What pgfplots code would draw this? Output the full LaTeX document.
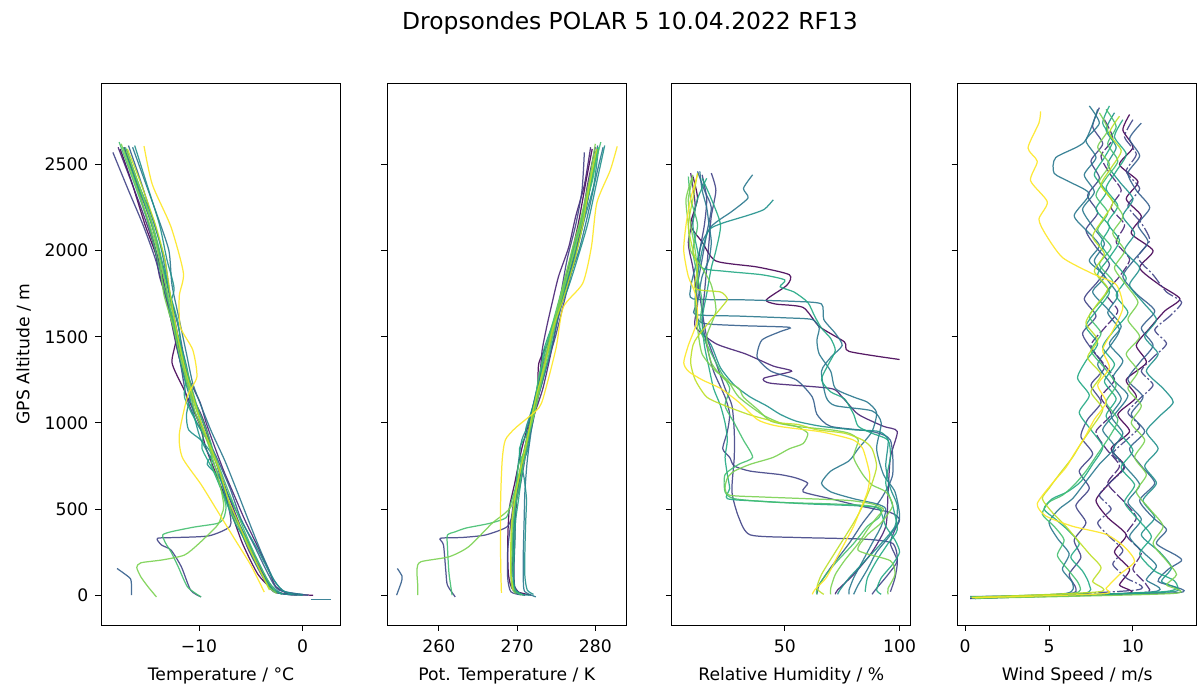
\documentclass[border=0pt]{standalone}
\usepackage{pgfplots}
\pgfplotsset{compat=1.18}
\usepackage{fontspec}
\setmainfont{DejaVu Sans}

% viridis samples
\definecolor{v0}{HTML}{440154}
\definecolor{v1}{HTML}{482475}
\definecolor{v2}{HTML}{414487}
\definecolor{v3}{HTML}{355F8D}
\definecolor{v4}{HTML}{2A788E}
\definecolor{v5}{HTML}{21918C}
\definecolor{v6}{HTML}{22A884}
\definecolor{v7}{HTML}{44BF70}
\definecolor{v8}{HTML}{7AD151}
\definecolor{v9}{HTML}{BDDF26}
\definecolor{v10}{HTML}{FDE725}

\pgfplotsset{
  panel/.style={
    scale only axis, width=119.5pt, height=271pt,
    anchor=south west,
    ymin=-173, ymax=2973, ytick={0,500,1000,1500,2000,2500},
    tick align=outside, xtick pos=bottom, ytick pos=left,
    major tick length=3pt,
    axis line style={line width=0.45pt},
    every tick/.style={black, line width=0.45pt},
    tick label style={font=\fontsize{8.6}{10}\selectfont},
    xticklabel style={yshift=-1pt},
    label style={font=\fontsize{8.6}{10}\selectfont},
    xlabel style={yshift=-0.5pt},
    /pgf/number format/assume math mode=true,
    /pgf/number format/1000 sep={},
    every axis plot/.append style={line width=0.62pt, opacity=0.9, smooth, tension=0.4},
  },
}

\begin{document}
\begin{tikzpicture}
\path[use as bounding box] (0,0) rectangle (599pt,344pt);
\node[font=\fontsize{11.7}{13}\selectfont] at (315pt,332.5pt) {Dropsondes POLAR 5 10.04.2022 RF13};

% ---------------- temperature
\begin{axis}[panel, at={(50.75pt,31.5pt)},
  xmin=-19.4, xmax=3.65, xtick={-10,0}, xticklabels={−10,0},
  xlabel={Temperature / °C}, ylabel={GPS Altitude / m}]
\addplot[v0] coordinates {(-17.6,2590)(-16.5,2400)(-15.2,2150)(-14.0,1950)(-13.0,1700)(-12.2,1500)(-12.6,1350)(-11.5,1200)(-10.0,1000)(-9.3,850)(-8.0,650)(-7.0,500)(-5.8,300)(-4.3,120)(-2.8,30)(-1.5,5)(1.0,0)};
\addplot[v1] coordinates {(-17.2,2600)(-16.0,2380)(-14.6,2100)(-13.5,1850)(-12.7,1600)(-12.0,1400)(-11.0,1200)(-9.8,1050)(-9.2,950)(-8.5,800)(-7.3,600)(-6.0,400)(-4.5,200)(-3.2,60)(-2.5,15)(-0.5,0)};
\addplot[v1] coordinates {(-17.8,2600)(-16.4,2380)(-15.3,2200)(-14.3,2020)(-13.8,1850)(-13.0,1700)(-12.3,1560)(-11.9,1420)(-11.0,1260)(-9.9,1120)(-9.3,1000)(-8.6,880)(-7.6,720)(-6.6,580)(-5.6,440)(-4.4,290)(-3.3,150)(-2.6,50)(-1.4,8)};
\addplot[v2] coordinates {(-18.3,2570)(-16.8,2350)(-15.4,2150)(-14.2,1950)(-13.3,1750)(-12.5,1550)(-11.8,1350)(-11.2,1150)(-10.2,1000)(-9.0,880)(-8.2,750)(-7.2,550)(-6.3,420)(-5.2,260)(-3.8,100)(-2.8,20)(-1.0,2)};
\addplot[v2] coordinates {(-17.0,2580)(-15.8,2360)(-14.5,2140)(-13.5,1920)(-12.7,1700)(-12.0,1500)(-11.3,1320)(-10.5,1150)(-9.6,1000)(-8.7,840)(-7.8,660)(-7.1,500)(-7.0,400)(-9.0,345)(-12.0,335)(-14.0,330)(-13.6,291)(-12.7,262)(-11.7,165)(-10.8,29)(-9.8,-10)};
\addplot[v3] coordinates {(-16.8,2610)(-15.6,2400)(-14.3,2150)(-13.3,1950)(-12.8,1750)(-12.0,1560)(-11.5,1400)(-10.8,1200)(-10.5,1080)(-9.5,950)(-8.3,800)(-7.0,620)(-6.0,450)(-4.6,280)(-3.3,120)(-2.3,30)(0.5,0)};
\addplot[v3] coordinates {(-17.9,155)(-17.2,125)(-16.6,95)(-16.5,50)(-16.5,0)};
\addplot[v4] coordinates {(-16.4,2600)(-15.5,2450)(-14.0,2200)(-12.9,2000)(-12.6,1800)(-11.9,1600)(-11.2,1400)(-10.6,1230)(-9.8,1100)(-8.8,950)(-7.5,780)(-6.3,600)(-5.2,430)(-4.0,250)(-2.7,80)(-1.7,20)(0.0,5)};
\addplot[v4] coordinates {(0.8,-27)(2.7,-27)};
\addplot[v5] coordinates {(-17.0,2590)(-15.8,2380)(-14.4,2180)(-13.6,2000)(-13.0,1800)(-12.4,1620)(-12.1,1450)(-11.6,1300)(-10.9,1150)(-10.3,1000)(-9.8,900)(-8.7,780)(-7.8,650)(-7.2,520)(-6.0,400)(-4.6,230)(-3.2,70)(-2.0,10)(0.0,0)};
\addplot[v5] coordinates {(-16.2,2610)(-15.0,2380)(-13.8,2150)(-13.1,1950)(-12.4,1780)(-12.9,1650)(-12.0,1500)(-11.2,1330)(-10.8,1180)(-11.2,1050)(-11.0,960)(-9.8,900)(-8.8,820)(-9.2,760)(-8.0,680)(-7.0,560)(-5.8,420)(-4.3,260)(-3.0,110)(-2.0,30)(-1.0,5)};
\addplot[v6] coordinates {(-17.3,2600)(-16.2,2420)(-14.8,2200)(-13.9,2000)(-12.8,1750)(-12.0,1580)(-11.7,1420)(-11.3,1250)(-11.4,1150)(-10.4,1020)(-9.6,930)(-9.7,850)(-8.6,720)(-7.5,560)(-6.6,430)(-5.4,300)(-4.2,150)(-3.0,40)(-2.0,5)};
\addplot[v7] coordinates {(-17.7,2630)(-16.3,2400)(-15.0,2180)(-14.2,2000)(-13.5,1820)(-12.6,1620)(-11.9,1440)(-11.1,1250)(-10.2,1080)(-9.5,950)(-8.4,800)(-7.4,640)(-6.6,520)(-5.8,400)(-4.8,260)(-3.5,100)(-2.6,20)};
\addplot[v7] coordinates {(-17.1,2600)(-15.9,2400)(-14.7,2200)(-13.8,2000)(-13.2,1800)(-12.6,1600)(-11.6,1400)(-10.9,1250)(-10.2,1100)(-9.3,960)(-8.7,850)(-8.8,760)(-8.0,640)(-7.4,520)(-7.6,450)(-8.2,417)(-10.5,395)(-12.7,368)(-13.5,349)(-13.2,300)(-12.7,252)(-12.0,165)(-11.1,48)(-9.8,-10)};
\addplot[v8] coordinates {(-17.0,2580)(-15.9,2400)(-14.5,2150)(-13.8,1950)(-13.4,1750)(-12.5,1560)(-11.8,1380)(-11.0,1200)(-10.3,1050)(-9.4,920)(-8.3,760)(-7.4,600)(-6.8,470)(-5.5,330)(-4.4,180)(-3.3,50)(-2.5,10)};
\addplot[v8] coordinates {(-17.5,2620)(-16.2,2400)(-14.9,2180)(-14.0,2000)(-13.2,1800)(-12.4,1600)(-11.8,1420)(-11.2,1250)(-10.4,1100)(-9.5,950)(-8.7,800)(-8.0,650)(-7.6,520)(-7.8,470)(-8.2,407)(-10.0,300)(-11.4,233)(-13.5,205)(-15.6,188)(-16.0,161)(-15.6,106)(-14.9,48)(-14.1,-10)};
\addplot[v9] coordinates {(-16.9,2590)(-15.6,2390)(-14.2,2150)(-13.3,1950)(-12.7,1720)(-12.2,1550)(-11.5,1350)(-10.7,1180)(-9.9,1020)(-9.0,880)(-8.0,720)(-7.2,560)(-6.2,420)(-5.3,290)(-4.0,130)(-3.2,30)};
\addplot[v10] coordinates {(-15.3,2607)(-14.5,2384)(-12.7,2138)(-11.5,1870)(-11.9,1736)(-11.8,1558)(-10.6,1424)(-10.2,1268)(-11.1,1156)(-11.9,933)(-11.6,799)(-9.8,643)(-8.2,487)(-6.6,330)(-5.0,174)(-3.7,18)};
\end{axis}

% ---------------- potential temperature
\begin{axis}[panel, at={(193.6pt,31.5pt)},
  xmin=253.4, xmax=283.95, xtick={260,270,280},
  yticklabels={}, xlabel={Pot. Temperature / K}]
\addplot[v0] coordinates {(279.6,2590)(278.8,2400)(277.8,2150)(276.8,1950)(275.5,1700)(274.3,1500)(272.8,1350)(272.6,1200)(271.5,1000)(270.6,850)(269.7,650)(269.0,500)(268.8,300)(268.9,120)(269.5,30)(271.8,0)};
\addplot[v1] coordinates {(280.0,2600)(279.0,2380)(278.0,2100)(276.6,1850)(275.2,1600)(274.3,1400)(273.3,1200)(272.2,1050)(271.4,950)(270.8,800)(270.0,600)(269.6,400)(269.4,200)(269.3,60)(269.8,15)(271.0,0)};
\addplot[v1] coordinates {(279.4,2600)(278.6,2380)(277.5,2200)(276.6,2020)(275.3,1850)(274.5,1700)(273.8,1560)(273.2,1420)(272.9,1260)(272.4,1120)(271.8,1000)(271.2,880)(270.5,720)(270.0,580)(269.8,440)(269.7,290)(269.6,150)(269.7,50)(270.4,8)};
\addplot[v2] coordinates {(278.6,2570)(278.3,2350)(277.5,2150)(276.4,1950)(275.6,1750)(274.7,1550)(273.4,1350)(272.3,1150)(271.6,1000)(271.2,880)(270.5,750)(269.6,550)(269.2,420)(268.8,260)(268.8,100)(269.2,20)(270.5,2)};
\addplot[v2] coordinates {(280.1,2580)(279.3,2360)(278.3,2140)(277.2,1920)(276.0,1700)(274.9,1500)(273.7,1320)(272.7,1150)(272.0,1000)(271.2,840)(270.5,660)(269.6,500)(268.8,400)(266.0,350)(263.0,335)(260.2,330)(260.6,291)(260.9,136)(261.1,58)(262.1,-10)};
\addplot[v3] coordinates {(280.3,2610)(279.5,2400)(278.4,2150)(277.3,1950)(276.0,1750)(274.8,1560)(273.8,1400)(272.8,1200)(272.0,1080)(271.5,950)(270.7,800)(270.1,620)(269.6,450)(269.5,280)(269.5,120)(269.8,30)(271.0,0)};
\addplot[v3] coordinates {(254.7,155)(255.3,110)(255.2,75)(254.6,0)};
\addplot[v4] coordinates {(281.0,2600)(280.2,2450)(279.0,2200)(277.9,2000)(276.4,1800)(275.2,1600)(274.2,1400)(273.2,1230)(272.4,1100)(271.8,950)(271.3,780)(271.0,600)(270.9,430)(270.8,250)(270.8,80)(271.0,20)(272.4,-10)};
\addplot[v5] coordinates {(280.4,2590)(279.8,2380)(278.6,2180)(277.6,2000)(276.2,1800)(275.0,1620)(273.8,1450)(273.0,1300)(272.3,1150)(271.5,1000)(270.6,900)(270.2,780)(269.9,650)(269.8,520)(269.6,400)(269.6,230)(269.6,70)(270.0,10)(271.6,0)};
\addplot[v5] coordinates {(281.2,2610)(280.1,2380)(279.0,2150)(277.7,1950)(276.5,1780)(275.3,1650)(274.5,1500)(273.5,1330)(272.6,1180)(271.7,1050)(271.1,960)(271.6,900)(271.2,820)(270.6,760)(270.9,680)(271.2,560)(271.1,420)(271.0,260)(271.0,110)(271.3,30)(272.1,5)};
\addplot[v6] coordinates {(280.3,2600)(279.6,2420)(278.5,2200)(277.2,2000)(275.9,1750)(274.6,1580)(273.4,1420)(273.0,1250)(272.6,1150)(272.0,1020)(271.2,930)(270.3,850)(270.6,720)(270.2,560)(269.8,430)(269.7,300)(269.5,150)(269.6,40)(270.6,5)};
\addplot[v7] coordinates {(280.7,2630)(279.4,2400)(278.2,2180)(277.1,2000)(276.0,1820)(274.8,1620)(273.7,1440)(272.7,1250)(272.2,1080)(271.6,950)(271.0,800)(270.3,640)(269.8,520)(269.5,400)(269.4,260)(269.3,100)(269.8,20)(270.8,0)};
\addplot[v7] coordinates {(280.4,2600)(279.6,2400)(278.3,2200)(277.4,2000)(276.0,1800)(274.9,1600)(274.1,1400)(273.2,1250)(272.4,1100)(271.7,960)(271.1,850)(270.2,760)(269.9,640)(269.1,520)(268.6,450)(266.5,417)(263.5,390)(262.1,368)(261.1,349)(261.1,281)(261.3,126)(261.7,0)};
\addplot[v8] coordinates {(280.1,2580)(279.3,2400)(278.2,2150)(277.0,1950)(275.8,1750)(274.8,1560)(273.8,1380)(272.9,1200)(272.2,1050)(271.3,920)(270.6,760)(269.9,600)(269.5,470)(269.3,330)(269.2,180)(269.3,50)(269.8,10)};
\addplot[v8] coordinates {(280.0,2620)(279.2,2400)(278.1,2180)(277.0,2000)(275.9,1800)(274.8,1600)(273.8,1420)(273.0,1250)(272.2,1100)(271.5,950)(270.7,800)(270.0,650)(269.3,520)(268.3,470)(266.8,417)(263.8,281)(261.3,223)(257.7,194)(257.2,150)(257.3,60)(257.3,0)};
\addplot[v9] coordinates {(280.2,2590)(279.3,2390)(278.4,2150)(277.4,1950)(275.9,1720)(274.6,1550)(273.6,1350)(272.6,1180)(271.8,1020)(271.2,880)(270.4,720)(269.7,560)(269.3,420)(269.2,290)(269.2,130)(269.5,30)};
\addplot[v10] coordinates {(282.8,2605)(281.9,2465)(280.2,2278)(279.5,2021)(278.4,1811)(275.9,1671)(275.0,1438)(273.7,1204)(272.8,1088)(269.8,971)(268.5,901)(268.1,784)(267.9,551)(267.9,200)(268.0,14)};
\end{axis}

% ---------------- relative humidity
\begin{axis}[panel, at={(335.9pt,31.5pt)},
  xmin=0.8, xmax=104.9, xtick={50,100},
  yticklabels={}, xlabel={Relative Humidity / \%}]
\addplot[v0] coordinates {(10,2430)(12,2300)(9,2150)(14,2050)(20,1940)(38,1905)(52,1860)(51,1800)(42,1715)(46,1690)(58,1670)(65,1560)(76,1470)(78,1415)(100,1368)};
\addplot[v1] coordinates {(9,2450)(11,2250)(8,2050)(10,1900)(12,1700)(11,1560)(20,1460)(33,1400)(45,1330)(53,1300)(41,1260)(44,1230)(70,1200)(75,1150)(82,1050)(93,980)(99,950)(96,800)(95,600)(94,400)(88,250)(80,120)(73,30)(72,5)};
\addplot[v2] coordinates {(14,2440)(16,2300)(15,2150)(13,2000)(12,1850)(14,1650)(16,1500)(20,1350)(24,1200)(27,1100)(28,950)(28,800)(27,600)(30,450)(35,350)(55,335)(85,325)(97,300)(99,200)(95,120)(90,40)(88,5)};
\addplot[v2] coordinates {(18,2450)(20,2350)(18,2200)(17,2050)(16,1900)(15,1750)(14,1600)(16,1450)(19,1300)(24,1150)(26,1050)(25,950)(23,850)(26,800)(28,750)(35,720)(48,700)(55,680)(60,650)(58,600)(70,560)(82,520)(96,480)(100,440)(98,380)(96,300)(99,200)(98,100)(96,20)};
\addplot[v3] coordinates {(12,2460)(15,2350)(18,2250)(16,2100)(14,1950)(12,1800)(11,1650)(14,1580)(30,1565)(52,1555)(48,1530)(40,1480)(38,1380)(44,1300)(55,1250)(62,1150)(64,1050)(70,980)(88,950)(96,900)(97,700)(92,560)(84,420)(78,300)(70,160)(65,60)(64,5)};
\addplot[v4] coordinates {(36,2440)(32,2361)(34,2306)(27,2228)(22,2183)(18,2140)(14,2050)(12,1950)(10,1850)(9,1780)(10,1720)(30,1715)(55,1705)(66,1690)(67,1600)(72,1520)(75,1450)(70,1380)(66,1300)(68,1150)(72,1100)(88,1070)(92,1000)(90,850)(93,700)(98,600)(100,450)(96,350)(90,250)(86,150)(82,60)(80,5)};
\addplot[v4] coordinates {(13,2460)(14,2350)(16,2250)(17,2150)(18,2050)(17,1950)(14,1850)(12,1700)(11,1630)(30,1620)(50,1610)(62,1600)(65,1550)(64,1480)(65,1400)(70,1300)(72,1200)(80,1150)(86,1120)(90,1060)(88,950)(82,850)(78,780)(70,720)(66,650)(70,600)(80,560)(90,530)(94,500)(92,400)(88,300)(84,200)(80,100)(78,30)(78,5)};
\addplot[v5] coordinates {(45,2295)(41,2239)(34,2205)(23,2160)(17,2120)(14,2000)(12,1850)(11,1700)(13,1550)(18,1450)(22,1320)(28,1220)(35,1150)(42,1100)(48,1050)(55,1010)(66,980)(80,960)(91,950)(95,900)(94,750)(96,620)(99,520)(98,400)(92,300)(85,200)(78,100)(74,30)(73,5)};
\addplot[v6] coordinates {(16,2420)(12,2300)(10,2150)(12,2000)(14,1900)(24,1880)(40,1860)(50,1830)(48,1790)(54,1760)(60,1700)(63,1620)(66,1550)(70,1490)(72,1420)(69,1340)(66,1250)(70,1180)(76,1140)(80,1050)(82,980)(88,940)(95,900)(96,800)(94,650)(97,520)(99,380)(95,300)(90,200)(86,100)(85,20)};
\addplot[v6] coordinates {(14,2420)(18,2300)(22,2150)(20,2000)(18,1900)(16,1750)(14,1600)(15,1450)(17,1320)(19,1200)(22,1100)(24,1000)(25,900)(24,800)(25,700)(26,620)(25,560)(40,545)(60,530)(80,520)(90,510)(92,480)(94,400)(98,320)(100,250)(97,180)(92,100)(90,30)(92,5)};
\addplot[v7] coordinates {(8,2430)(9,2300)(12,2150)(10,2000)(12,1850)(14,1700)(13,1550)(17,1430)(22,1300)(26,1200)(24,1100)(28,1000)(32,900)(36,800)(30,760)(24,700)(24,600)(28,560)(45,540)(70,530)(86,520)(92,500)(91,450)(86,400)(80,300)(73,200)(68,120)(64,40)(64,5)};
\addplot[v8] coordinates {(10,2440)(7,2300)(8,2150)(9,2000)(14,1900)(18,1800)(20,1650)(16,1500)(18,1350)(24,1250)(30,1200)(32,1150)(38,1080)(44,1010)(55,980)(70,960)(78,940)(82,900)(80,800)(84,700)(88,640)(94,600)(97,520)(92,420)(86,350)(82,260)(96,200)(98,120)(95,40)(95,5)};
\addplot[v8] coordinates {(10,2420)(8,2300)(9,2150)(11,2000)(12,1850)(11,1700)(12,1550)(14,1400)(20,1300)(25,1250)(30,1150)(40,1050)(48,1000)(55,980)(60,940)(58,880)(52,850)(45,800)(35,760)(28,720)(25,680)(24,620)(26,580)(40,570)(60,560)(78,550)(88,530)(93,500)(90,450)(86,380)(82,300)(76,200)(72,120)(70,40)(70,5)};
\addplot[v9] coordinates {(12,2450)(10,2300)(8,2150)(10,2000)(12,1900)(11,1780)(22,1760)(25,1720)(23,1680)(18,1600)(12,1500)(10,1450)(9,1350)(11,1250)(16,1150)(24,1100)(34,1050)(42,1020)(48,1000)(56,990)(64,960)(76,940)(84,900)(88,850)(90,750)(88,650)(84,520)(80,420)(72,250)(66,120)(64,40)(67,5)};
\addplot[v10] coordinates {(12,2440)(9,2300)(7,2150)(6,2000)(8,1850)(11,1750)(12,1600)(8,1450)(6,1350)(8,1300)(14,1250)(22,1200)(30,1120)(38,1020)(44,990)(50,975)(65,950)(72,930)(80,900)(84,850)(87,700)(86,600)(83,500)(80,400)(76,300)(72,200)(68,100)(63,30)(62,5)};
\end{axis}

% ---------------- wind speed
\begin{axis}[panel, at={(478.85pt,31.5pt)},
  xmin=-0.44, xmax=13.8, xtick={0,5,10},
  yticklabels={}, xlabel={Wind Speed / m/s}]
\addplot[v0] coordinates {(9.8,2790)(9.4,2700)(10.0,2600)(9.2,2500)(10.3,2400)(9.6,2300)(10.5,2200)(9.9,2100)(11.2,2000)(10.4,1900)(11.6,1800)(12.8,1720)(11.9,1650)(11.0,1550)(10.2,1450)(10.8,1350)(9.6,1250)(10.2,1150)(9.1,1050)(9.8,950)(8.7,850)(9.5,750)(8.6,650)(7.8,550)(8.5,450)(9.6,350)(8.9,250)(9.8,150)(9.2,60)(9.6,10)(0.5,-15)};
\addplot[v1, dash pattern=on 5pt off 1.2pt] coordinates {(8.3,2760)(8.8,2650)(8.1,2550)(8.6,2450)(9.3,2350)(8.7,2250)(9.5,2150)(9.0,2050)(9.8,1950)(9.2,1850)(8.4,1750)(9.1,1650)(8.3,1550)(7.5,1450)(8.2,1350)(8.9,1250)(8.1,1150)(8.7,1050)(7.8,950)(8.4,850)(9.2,750)(8.5,650)(9.4,550)(10.2,450)(9.6,350)(10.5,250)(10.0,150)(10.8,60)(10.3,10)(0.3,-18)};
\addplot[v2] coordinates {(8.0,2830)(7.6,2720)(8.2,2620)(7.5,2520)(8.0,2420)(7.3,2320)(7.9,2220)(7.2,2120)(7.8,2020)(8.6,1920)(7.9,1820)(7.1,1720)(7.8,1620)(7.0,1520)(7.6,1420)(8.3,1320)(7.5,1220)(8.1,1120)(7.3,1020)(6.9,920)(7.6,820)(6.8,720)(7.4,620)(6.6,520)(7.2,420)(6.5,320)(6.9,220)(6.2,120)(6.6,40)(6.1,8)(0.4,-12)};
\addplot[v2, dash pattern=on 6pt off 1.2pt on 1pt off 1.2pt] coordinates {(10.0,2760)(9.5,2660)(10.2,2560)(9.6,2460)(10.4,2360)(9.7,2260)(10.5,2160)(11.0,2060)(10.3,1960)(11.2,1860)(12.0,1760)(12.9,1700)(12.2,1620)(11.3,1540)(12.0,1460)(11.2,1380)(10.5,1300)(11.2,1220)(10.4,1140)(9.7,1060)(10.4,980)(9.6,900)(8.8,820)(9.5,740)(8.7,660)(8.0,580)(8.7,500)(7.9,420)(8.6,340)(9.4,260)(8.8,180)(9.6,100)(10.2,30)(0.3,-20)};
\addplot[v3] coordinates {(10.5,2740)(9.8,2650)(10.4,2550)(9.7,2450)(10.2,2350)(11.0,2250)(10.3,2150)(10.9,2050)(10.1,1950)(9.4,1850)(10.2,1750)(11.3,1650)(10.5,1550)(11.2,1450)(10.4,1350)(9.7,1250)(10.6,1150)(9.9,1050)(10.7,950)(9.8,850)(10.5,750)(11.3,650)(10.4,550)(11.2,450)(12.0,380)(11.4,300)(12.6,230)(12.9,200)(12.1,150)(11.5,80)(12.7,15)(0.3,-8)};
\addplot[v4] coordinates {(7.9,2820)(7.1,2630)(5.4,2540)(5.3,2450)(6.2,2400)(7.4,2330)(6.5,2205)(7.2,2120)(8.0,2030)(7.4,1940)(8.3,1850)(7.6,1760)(8.5,1660)(9.3,1560)(8.6,1460)(9.4,1360)(8.8,1260)(9.7,1160)(9.0,1060)(8.2,960)(8.9,860)(8.0,760)(7.2,660)(6.4,560)(5.6,500)(5.0,420)(5.5,330)(6.2,240)(5.8,150)(6.4,70)(6.0,10)(0.6,-20)};
\addplot[v4] coordinates {(7.4,2840)(8.0,2740)(7.2,2640)(7.8,2540)(7.1,2440)(7.7,2340)(7.0,2240)(7.6,2140)(8.3,2040)(7.7,1940)(8.4,1840)(9.1,1740)(8.5,1640)(9.2,1540)(8.6,1440)(7.9,1340)(8.6,1240)(9.3,1140)(8.7,1040)(9.4,940)(8.8,840)(9.6,740)(10.4,640)(9.7,540)(10.5,440)(9.8,340)(10.6,250)(11.4,170)(10.8,90)(11.2,20)(0.5,-18)};
\addplot[v5] coordinates {(8.9,2800)(8.4,2700)(9.0,2600)(8.5,2500)(9.2,2400)(10.0,2300)(9.4,2200)(10.1,2100)(9.5,2000)(10.4,1900)(9.8,1800)(10.6,1700)(11.4,1600)(10.7,1500)(11.5,1400)(10.8,1300)(11.8,1200)(12.4,1120)(11.6,1040)(10.8,950)(11.5,850)(10.7,750)(11.4,650)(10.6,550)(11.3,450)(10.5,350)(11.6,250)(12.3,160)(11.7,80)(12.3,20)(0.4,-16)};
\addplot[v6] coordinates {(8.6,2840)(8.2,2740)(8.8,2640)(8.3,2540)(7.7,2440)(8.4,2340)(7.8,2240)(8.6,2140)(8.1,2040)(8.8,1940)(9.6,1840)(9.0,1740)(9.7,1640)(8.9,1540)(8.2,1440)(8.9,1340)(8.3,1240)(9.0,1140)(8.4,1040)(9.2,940)(10.0,840)(9.3,740)(10.1,640)(9.5,540)(10.3,440)(11.1,340)(10.4,240)(11.3,140)(12.5,80)(11.8,20)(0.5,-14)};
\addplot[v6] coordinates {(9.4,2760)(8.9,2660)(9.6,2560)(9.0,2460)(8.4,2360)(9.1,2260)(8.5,2160)(9.2,2060)(8.6,1960)(7.9,1860)(8.6,1760)(7.9,1660)(7.2,1560)(7.9,1460)(7.2,1360)(6.7,1260)(7.4,1160)(6.8,1060)(7.5,960)(8.2,860)(7.6,760)(6.9,660)(6.1,600)(5.2,560)(4.7,500)(5.4,440)(6.1,380)(6.8,300)(6.3,220)(7.0,140)(7.4,60)(7.0,10)(0.5,-16)};
\addplot[v7] coordinates {(8.4,2820)(9.0,2720)(8.5,2620)(9.1,2520)(8.4,2420)(7.8,2320)(8.5,2220)(7.9,2120)(8.7,2020)(8.0,1920)(8.8,1820)(8.2,1720)(7.4,1620)(8.1,1520)(7.5,1420)(8.3,1320)(9.0,1220)(8.4,1120)(9.1,1020)(8.6,920)(7.9,820)(7.2,720)(6.5,640)(5.8,580)(5.0,540)(4.6,470)(5.3,400)(5.9,320)(5.5,230)(6.2,140)(6.8,60)(6.4,10)(0.3,-10)};
\addplot[v8] coordinates {(8.0,2800)(8.5,2700)(7.9,2600)(8.6,2500)(8.0,2400)(8.7,2300)(9.4,2200)(8.8,2100)(9.5,2000)(8.9,1900)(9.6,1800)(10.3,1700)(9.7,1600)(10.4,1500)(9.6,1400)(10.3,1300)(9.7,1200)(10.5,1100)(9.9,1000)(10.7,900)(10.1,800)(10.8,700)(10.2,600)(11.0,500)(11.8,400)(11.2,300)(12.0,200)(12.6,120)(12.0,60)(12.4,10)(0.6,-18)};
\addplot[v9] coordinates {(9.2,2780)(8.6,2680)(9.3,2580)(8.7,2480)(8.1,2380)(8.8,2280)(8.2,2180)(7.6,2080)(8.3,1980)(7.7,1880)(8.5,1780)(7.8,1680)(7.2,1580)(7.9,1480)(7.3,1380)(8.1,1280)(7.5,1180)(8.2,1080)(7.6,980)(6.9,880)(6.4,800)(5.6,700)(5.0,620)(4.6,560)(5.2,480)(6.0,400)(6.7,320)(7.4,240)(8.1,160)(7.6,80)(8.0,20)(0.4,-12)};
\addplot[v10] coordinates {(4.5,2808)(4.4,2741)(3.75,2596)(4.3,2518)(3.9,2406)(4.9,2283)(4.4,2183)(4.8,2094)(5.8,1960)(7.5,1870)(9.0,1803)(9.4,1670)(8.8,1536)(8.2,1424)(8.6,1320)(7.9,1220)(8.4,1120)(7.7,1020)(7.1,911)(6.5,820)(6.0,740)(5.2,650)(4.3,531)(4.8,460)(6.4,400)(8.4,353)(9.5,280)(10.1,196)(9.2,120)(8.4,40)(8.2,8)(0.4,-15)};
\end{axis}
\end{tikzpicture}
\end{document}
